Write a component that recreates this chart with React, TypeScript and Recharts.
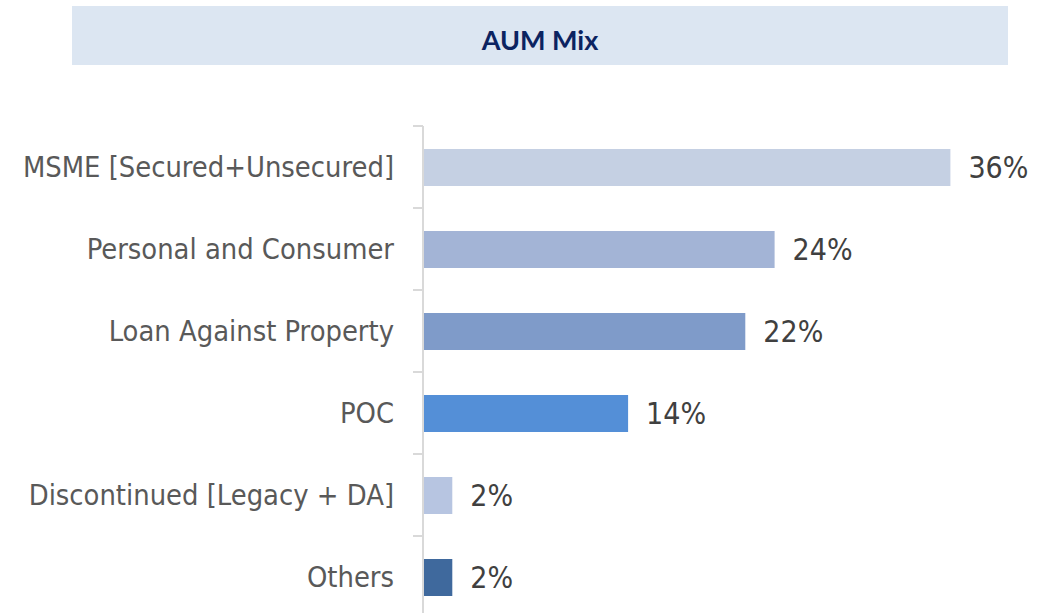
import React from 'react';
import { BarChart, Bar, XAxis, YAxis, Cell, LabelList } from 'recharts';

const categories = [
  'MSME [Secured+Unsecured]',
  'Personal and Consumer',
  'Loan Against Property',
  'POC',
  'Discontinued [Legacy + DA]',
  'Others',
];
const shares = [36, 24, 22, 14, 2, 2];
const barColors = ['#c5d0e3', '#a3b4d6', '#7f9bc9', '#548fd7', '#b7c5e1', '#3f699d'];

const data = categories.map((name, i) => ({ name, value: shares[i] }));

const PLOT_TOP = 126;
const PLOT_HEIGHT = 492;
const AXIS_X = 423;
const BAND = PLOT_HEIGHT / categories.length;
const FONT = "'DejaVu Sans Condensed', 'DejaVu Sans', sans-serif";

// label plus a short tick mark at the top edge of each category band
const CategoryTick = (props: any) => {
  const { y, payload } = props;
  const top = y - BAND / 2;
  return (
    <g>
      <line x1={AXIS_X - 10} x2={AXIS_X} y1={top} y2={top} stroke="#d9d9d9" strokeWidth={2} />
      <text x={AXIS_X - 29} y={y} dy={10} textAnchor="end" fill="#595959" fontSize={28.8} fontFamily={FONT}>
        {payload.value}
      </text>
    </g>
  );
};

const App: React.FC = () => {
  return (
    <div
      style={{
        position: 'absolute',
        left: 0,
        top: 0,
        width: 1051,
        height: 613,
        overflow: 'hidden',
        background: '#ffffff',
      }}
    >
      {/* Title band */}
      <div
        style={{
          position: 'absolute',
          left: 72,
          top: 6,
          width: 936,
          height: 59,
          boxSizing: 'border-box',
          paddingTop: 8,
          background: '#dce6f2',
          display: 'flex',
          alignItems: 'center',
          justifyContent: 'center',
          fontFamily: 'Lato, sans-serif',
          fontWeight: 700,
          fontSize: 27,
          color: '#0b2361',
        }}
      >
        AUM Mix
      </div>

      <div style={{ position: 'absolute', left: 0, top: 0 }}>
        <BarChart
          width={1051}
          height={PLOT_TOP + PLOT_HEIGHT}
          data={data}
          layout="vertical"
          margin={{ top: PLOT_TOP, right: 42, bottom: 0, left: 0 }}
          barCategoryGap={0}
        >
          <XAxis type="number" domain={[0, 40]} hide />
          <YAxis
            type="category"
            dataKey="name"
            width={AXIS_X}
            axisLine={{ stroke: '#d9d9d9', strokeWidth: 2 }}
            tickLine={false}
            tick={<CategoryTick />}
            interval={0}
          />
          <Bar dataKey="value" barSize={37} isAnimationActive={false}>
            {data.map((d, i) => (
              <Cell key={d.name} fill={barColors[i]} />
            ))}
            <LabelList
              dataKey="value"
              position="right"
              offset={18}
              formatter={(v: any) => `${v}%`}
              fill="#404040"
              fontSize={30}
              fontFamily={FONT}
            />
          </Bar>
        </BarChart>
      </div>
    </div>
  );
};

export default App;
